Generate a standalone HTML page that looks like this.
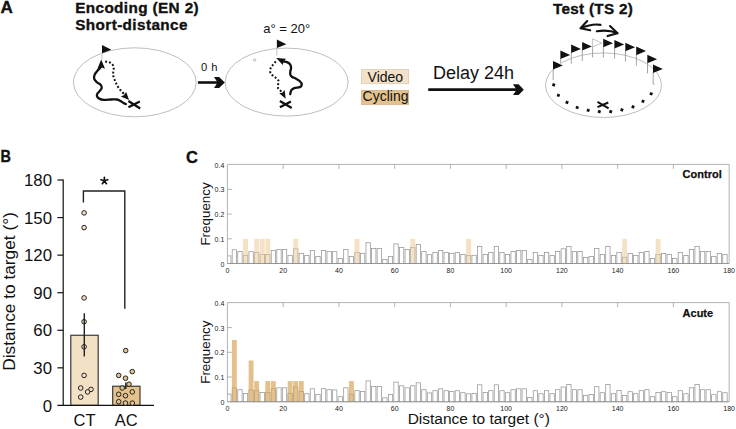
<!DOCTYPE html>
<html><head><meta charset="utf-8"><style>
html,body{margin:0;padding:0;background:#fff;overflow:hidden;}
svg{display:block;font-family:"Liberation Sans",sans-serif;}
</style></head><body>
<svg width="736" height="429" viewBox="0 0 736 429">
<rect width="736" height="429" fill="#fff"/>
<g font-weight="bold" fill="#111" stroke="#111" stroke-width="0.35">
<text transform="translate(0.6 12.9) scale(1.03 1)" font-size="16.6">A</text>
<text transform="translate(0.4 162.2) scale(0.95 1.06)" font-size="15.2">B</text>
<text x="186" y="163" font-size="16.5">C</text>
<text x="75.2" y="12.9" font-size="15.3" letter-spacing="0.38">Encoding (EN 2)</text>
<text x="75.2" y="29.7" font-size="15.3" letter-spacing="0.4">Short-distance</text>
<text x="552.9" y="13.6" font-size="15.3" letter-spacing="0.3">Test (TS 2)</text>
</g>
<g fill="none" stroke="#a8a8a8" stroke-width="0.75">
<ellipse cx="134.8" cy="82.3" rx="61.4" ry="34.5"/>
<ellipse cx="286.6" cy="82.1" rx="61.5" ry="34"/>
<ellipse cx="603.5" cy="85.2" rx="58" ry="32.3"/>
<circle cx="254.6" cy="60.1" r="1.2"/>
</g>
<g stroke="#c4c4c4" stroke-width="1">
<path d="M102 52.5V59.5"/>
<path d="M276.8 47.5V55.5"/>
</g>
<path d="M102 44.9L111.4 49.8L102 53.2Z" fill="#111"/>
<path d="M276.9 39.4L286.4 44.2L276.9 48Z" fill="#111"/>
<path d="M100.6 67.5 C100.07 68.05 98.4 69.58 97.4 70.8 C96.4 72.02 95.13 73.45 94.6 74.8 C94.07 76.15 93.8 77.63 94.2 78.9 C94.6 80.17 95.93 81.42 97 82.4 C98.07 83.38 99.82 83.9 100.6 84.8 C101.38 85.7 101.83 86.78 101.7 87.8 C101.57 88.82 100.53 89.9 99.8 90.9 C99.07 91.9 97.77 92.9 97.3 93.8 C96.83 94.7 96.68 95.5 97 96.3 C97.32 97.1 98.05 98.02 99.2 98.6 C100.35 99.18 101.9 99.65 103.9 99.8 C105.9 99.95 109.03 99.55 111.2 99.5 C113.37 99.45 115.33 99.23 116.9 99.5 C118.47 99.77 119.5 100.5 120.6 101.1 C121.7 101.7 122.62 102.62 123.5 103.1 C124.38 103.58 125.5 103.85 125.9 104" fill="none" stroke="#111" stroke-width="2.3" stroke-linecap="round"/>
<path d="M101.2 59.5L105 68.8L101.1 67.2L97.4 68.8Z" fill="#111"/>
<path d="M105.2 61.6 C105.87 61.72 108.05 61.9 109.2 62.3 C110.35 62.7 111.35 63.13 112.1 64 C112.85 64.87 113.5 66.23 113.7 67.5 C113.9 68.77 113.38 70.28 113.3 71.6 C113.22 72.92 113 74.08 113.2 75.4 C113.4 76.72 114.02 78.2 114.5 79.5 C114.98 80.8 115.55 82.05 116.1 83.2 C116.65 84.35 117.18 85.38 117.8 86.4 C118.42 87.42 119.03 88.33 119.8 89.3 C120.57 90.27 121.65 91.37 122.4 92.2 C123.15 93.03 123.98 93.95 124.3 94.3" fill="none" stroke="#111" stroke-width="2" stroke-dasharray="1.9 1.95"/>
<path d="M129.1 99.9L120.8 96.4L123.8 95.2L126.2 92Z" fill="#111"/>
<path d="M128.4 101.1L140.2 108.4M128.4 107.2L139.8 101.5" stroke="#111" stroke-width="2.3" fill="none"/>
<path d="M282.6 61.1 C283.42 61.32 286.25 61.85 287.5 62.4 C288.75 62.95 289.5 63.52 290.1 64.4 C290.7 65.28 291.07 66.5 291.1 67.7 C291.13 68.9 290.42 70.42 290.3 71.6 C290.18 72.78 290.08 73.9 290.4 74.8 C290.72 75.7 291.35 76.4 292.2 77 C293.05 77.6 294.22 77.68 295.5 78.4 C296.78 79.12 298.85 80.27 299.9 81.3 C300.95 82.33 301.8 83.63 301.8 84.6 C301.8 85.57 301.13 86.52 299.9 87.1 C298.67 87.68 295.82 87.6 294.4 88.1 C292.98 88.6 292.1 89.1 291.4 90.1 C290.7 91.1 290.4 93.43 290.2 94.1" fill="none" stroke="#111" stroke-width="2.3" stroke-linecap="round"/>
<path d="M276.2 58L286 58.7L283.6 61.6L282.8 65Z" fill="#111"/>
<path d="M275.8 61.5 C275.25 62.15 273.38 64.22 272.5 65.4 C271.62 66.58 270.85 67.35 270.5 68.6 C270.15 69.85 269.97 71.7 270.4 72.9 C270.83 74.1 272.12 74.92 273.1 75.8 C274.08 76.68 275.38 77.32 276.3 78.2 C277.22 79.08 278.32 79.93 278.6 81.1 C278.88 82.27 278.07 83.97 278 85.2 C277.93 86.43 277.78 87.57 278.2 88.5 C278.62 89.43 279.9 90.22 280.5 90.8 C281.1 91.38 281.58 91.8 281.8 92" fill="none" stroke="#111" stroke-width="2" stroke-dasharray="1.9 1.95"/>
<path d="M285.7 98.8L279.2 93.3L282.3 92.8L284.6 89.9Z" fill="#111"/>
<path d="M279.9 101.1L291.7 108M279.9 107.2L290.9 101.5" stroke="#111" stroke-width="2.3" fill="none"/>
<path d="M197.9 82.5H218" stroke="#111" stroke-width="2.6"/>
<path d="M214 77.1H219.1L224.8 82.5L219.1 87.9H214L217.6 82.5Z" fill="#111"/>
<path d="M428.2 89.7H517" stroke="#111" stroke-width="2.7"/>
<path d="M513 84.3H518.6L523.8 89.7L518.6 95.1H513L516.6 89.7Z" fill="#111"/>
<g fill="#111">
<text x="201" y="70.6" font-size="11.2" word-spacing="0.8">0 h</text>
<text x="263.3" y="33.3" font-size="13">a° = 20°</text>
<text x="433" y="78.6" font-size="18">Delay 24h</text>
</g>
<rect x="361.5" y="69.5" width="47.2" height="14.3" fill="#f3e2c7" stroke="#d4c0a0" stroke-width="0.6"/>
<rect x="361.5" y="90.3" width="47.2" height="14.3" fill="#e4c28d" stroke="#c8a878" stroke-width="0.6"/>
<text x="367.6" y="81.6" font-size="14" fill="#111">Video</text>
<text x="362.6" y="101.2" font-size="14" fill="#111">Cycling</text>
<g fill="none" stroke="#111" stroke-width="2.1" stroke-linecap="round" stroke-linejoin="round">
<path d="M581 28.1C587 25.6 594 23.6 600.5 24.9"/>
<path d="M587.2 21L580.5 28.2L590.2 30.3"/>
<path d="M596.8 31.3C603 30.2 611 30.6 617.3 33.1"/>
<path d="M610 26L617.5 33.2L607.6 36.1"/>
</g>
<g stroke="#9a9a9a" stroke-width="0.9">
<path d="M553.2 69V80"/>
<path d="M560.6 58.5V62.9"/>
<path d="M571.3 52.5V63.7"/>
<path d="M582.3 50V61"/>
<path d="M592.6 46.6V57.4"/>
<path d="M603.4 46.7V57.4"/>
<path d="M614.6 47.9V58.6"/>
<path d="M625.5 50.7V61.5"/>
<path d="M636.4 54.6V65.7"/>
<path d="M647.5 62.7V73.4"/>
<path d="M653.2 72.5V83.9"/>
</g>
<path d="M553 61L562.8 65.5L553 69.6Z" fill="#111"/>
<path d="M560.4 50.5L570.2 55L560.4 59.1Z" fill="#111"/>
<path d="M571.1 44.5L580.9 49L571.1 53.1Z" fill="#111"/>
<path d="M582.1 42L591.9 46.5L582.1 50.6Z" fill="#111"/>
<path d="M592.6 38.8L601.8 43.1L592.6 46.8Z" fill="#fff" stroke="#aaa" stroke-width="0.7"/>
<path d="M603.2 38.7L613 43.2L603.2 47.3Z" fill="#111"/>
<path d="M614.4 39.9L624.2 44.4L614.4 48.5Z" fill="#111"/>
<path d="M625.3 42.7L635.1 47.2L625.3 51.3Z" fill="#111"/>
<path d="M636.2 46.6L646 51.1L636.2 55.2Z" fill="#111"/>
<path d="M647.3 54.7L657.1 59.2L647.3 63.3Z" fill="#111"/>
<path d="M653 64.5L662.8 69L653 73.1Z" fill="#111"/>
<path d="M653.2 84.1h1.6" stroke="#888" stroke-width="0.7"/>
<g fill="#111">
<rect x="552.3" y="83.5" width="2.8" height="2.8" transform="rotate(20 553.7 84.9)"/>
<rect x="557" y="93.9" width="2.8" height="2.8" transform="rotate(20 558.4 95.3)"/>
<rect x="565.6" y="101" width="2.8" height="2.8" transform="rotate(20 567 102.4)"/>
<rect x="575.8" y="106.1" width="2.8" height="2.8" transform="rotate(20 577.2 107.5)"/>
<rect x="586.8" y="108.9" width="2.8" height="2.8" transform="rotate(20 588.2 110.3)"/>
<rect x="597.9" y="110.2" width="2.8" height="2.8" transform="rotate(20 599.3 111.6)"/>
<rect x="609.3" y="110.2" width="2.8" height="2.8" transform="rotate(20 610.7 111.6)"/>
<rect x="620.5" y="108.5" width="2.8" height="2.8" transform="rotate(20 621.9 109.9)"/>
<rect x="631.6" y="105.5" width="2.8" height="2.8" transform="rotate(20 633 106.9)"/>
<rect x="641.6" y="99.9" width="2.8" height="2.8" transform="rotate(20 643 101.3)"/>
<rect x="649.8" y="92.4" width="2.8" height="2.8" transform="rotate(20 651.2 93.8)"/>
</g>
<path d="M597.5 101.9L608.6 108.3M597.5 107.2L608.3 102.5" stroke="#111" stroke-width="2" fill="none"/>
<g font-size="16.8" fill="#111" text-anchor="end">
<text x="52" y="411.5">0</text>
<text x="52" y="373.93">30</text>
<text x="52" y="336.37">60</text>
<text x="52" y="298.8">90</text>
<text x="52" y="261.24">120</text>
<text x="52" y="223.67">150</text>
<text x="52" y="186.1">180</text>
</g>
<text transform="translate(15.4 291.5) rotate(-90)" font-size="17.3" text-anchor="middle" fill="#111">Distance to target (°)</text>
<rect x="70.8" y="335.28" width="27.4" height="70.12" fill="#f3e1c5" stroke="#3a3a3a" stroke-width="1.2"/>
<rect x="112.7" y="386.24" width="27.3" height="19.16" fill="#e5c28c" stroke="#3a3a3a" stroke-width="1.2"/>
<g stroke="#111" stroke-width="1.2" fill="none">
<path d="M63.2 179.4V405.4M57.4 405.4H154"/>
<path d="M57.4 367.83H63.2"/>
<path d="M57.4 330.27H63.2"/>
<path d="M57.4 292.7H63.2"/>
<path d="M57.4 255.14H63.2"/>
<path d="M57.4 217.57H63.2"/>
<path d="M57.4 180H63.2"/>
</g>
<g stroke="#222" stroke-width="1">
<circle cx="84.1" cy="212.9" r="2.3" fill="#f3e1c5"/>
<circle cx="84.1" cy="227.6" r="2.3" fill="#f3e1c5"/>
<circle cx="84.1" cy="297.9" r="2.3" fill="#f3e1c5"/>
<circle cx="84.1" cy="321.7" r="2.3" fill="#f3e1c5"/>
<circle cx="84.1" cy="346.8" r="2.3" fill="#f3e1c5"/>
<circle cx="84.1" cy="375.4" r="2.3" fill="#f3e1c5"/>
<circle cx="80.7" cy="388" r="2.3" fill="#f3e1c5"/>
<circle cx="91" cy="389.4" r="2.3" fill="#f3e1c5"/>
<circle cx="87.6" cy="391.9" r="2.3" fill="#f3e1c5"/>
<circle cx="80.7" cy="397.1" r="2.3" fill="#f3e1c5"/>
<circle cx="125.7" cy="350.6" r="2.3" fill="#e5c28c"/>
<circle cx="132.3" cy="371.6" r="2.3" fill="#e5c28c"/>
<circle cx="118.7" cy="375.4" r="2.3" fill="#e5c28c"/>
<circle cx="125.5" cy="378.2" r="2.3" fill="#e5c28c"/>
<circle cx="129" cy="384.2" r="2.3" fill="#e5c28c"/>
<circle cx="122.2" cy="388" r="2.3" fill="#e5c28c"/>
<circle cx="132.3" cy="391.9" r="2.3" fill="#e5c28c"/>
<circle cx="118.7" cy="394.3" r="2.3" fill="#e5c28c"/>
<circle cx="125.5" cy="395.7" r="2.3" fill="#e5c28c"/>
<circle cx="118.7" cy="401.7" r="2.3" fill="#e5c28c"/>
<circle cx="125.5" cy="403.1" r="2.3" fill="#e5c28c"/>
<circle cx="132.3" cy="403.1" r="2.3" fill="#e5c28c"/>
</g>
<path d="M84.3 313.3V356.6M125.8 382.5V389" stroke="#222" stroke-width="1.4"/>
<path d="M83.4 202.4V191H124.8V308.7" stroke="#222" stroke-width="1.4" fill="none"/>
<path d="M104.4 180.8L104.4 177.3M104.4 180.8L107.73 179.72M104.4 180.8L106.46 183.63M104.4 180.8L102.34 183.63M104.4 180.8L101.07 179.72" stroke="#111" stroke-width="1.7" stroke-linecap="round" fill="none"/>
<g font-size="16.5" fill="#111" text-anchor="middle">
<text x="84.6" y="426">CT</text>
<text x="126.3" y="426">AC</text>
</g>
<clipPath id="h1"><rect x="227.4" y="164.4" width="501.75" height="99.6"/></clipPath>
<g clip-path="url(#h1)">
<g fill="#fff" stroke="#959595" stroke-width="0.75">
<rect x="226.62" y="255.9" width="4.35" height="8.6"/>
<rect x="232.19" y="249.8" width="4.35" height="14.7"/>
<rect x="237.77" y="251.5" width="4.35" height="13"/>
<rect x="243.34" y="255.3" width="4.35" height="9.2"/>
<rect x="248.92" y="251.7" width="4.35" height="12.8"/>
<rect x="254.49" y="252.5" width="4.35" height="12"/>
<rect x="260.07" y="254.4" width="4.35" height="10.1"/>
<rect x="265.64" y="254.4" width="4.35" height="10.1"/>
<rect x="271.22" y="250.6" width="4.35" height="13.9"/>
<rect x="276.79" y="249.6" width="4.35" height="14.9"/>
<rect x="282.37" y="249.6" width="4.35" height="14.9"/>
<rect x="287.94" y="255.3" width="4.35" height="9.2"/>
<rect x="293.52" y="248.8" width="4.35" height="15.7"/>
<rect x="299.09" y="253.3" width="4.35" height="11.2"/>
<rect x="304.67" y="255.5" width="4.35" height="9"/>
<rect x="310.24" y="250.6" width="4.35" height="13.9"/>
<rect x="315.82" y="256.4" width="4.35" height="8.1"/>
<rect x="321.39" y="250.5" width="4.35" height="14"/>
<rect x="326.97" y="251.5" width="4.35" height="13"/>
<rect x="332.54" y="251.7" width="4.35" height="12.8"/>
<rect x="338.12" y="258.5" width="4.35" height="6"/>
<rect x="343.69" y="249.6" width="4.35" height="14.9"/>
<rect x="349.27" y="256.4" width="4.35" height="8.1"/>
<rect x="354.84" y="252.5" width="4.35" height="12"/>
<rect x="360.42" y="253.3" width="4.35" height="11.2"/>
<rect x="365.99" y="242.7" width="4.35" height="21.8"/>
<rect x="371.57" y="248.4" width="4.35" height="16.1"/>
<rect x="377.14" y="248.4" width="4.35" height="16.1"/>
<rect x="382.72" y="259.6" width="4.35" height="4.9"/>
<rect x="388.29" y="256.4" width="4.35" height="8.1"/>
<rect x="393.87" y="243.9" width="4.35" height="20.6"/>
<rect x="399.44" y="247.6" width="4.35" height="16.9"/>
<rect x="405.02" y="249.6" width="4.35" height="14.9"/>
<rect x="410.59" y="247.6" width="4.35" height="16.9"/>
<rect x="416.17" y="244.6" width="4.35" height="19.9"/>
<rect x="421.74" y="251.5" width="4.35" height="13"/>
<rect x="427.32" y="254.7" width="4.35" height="9.8"/>
<rect x="432.89" y="252.5" width="4.35" height="12"/>
<rect x="438.47" y="250.6" width="4.35" height="13.9"/>
<rect x="444.04" y="252.5" width="4.35" height="12"/>
<rect x="449.62" y="253.3" width="4.35" height="11.2"/>
<rect x="455.19" y="252.5" width="4.35" height="12"/>
<rect x="460.77" y="254.5" width="4.35" height="10"/>
<rect x="466.34" y="255.6" width="4.35" height="8.9"/>
<rect x="471.92" y="255.3" width="4.35" height="9.2"/>
<rect x="477.49" y="246.6" width="4.35" height="17.9"/>
<rect x="483.07" y="254.4" width="4.35" height="10.1"/>
<rect x="488.64" y="252.5" width="4.35" height="12"/>
<rect x="494.22" y="246.6" width="4.35" height="17.9"/>
<rect x="499.79" y="252.5" width="4.35" height="12"/>
<rect x="505.37" y="254.5" width="4.35" height="10"/>
<rect x="510.94" y="251.5" width="4.35" height="13"/>
<rect x="516.52" y="250.6" width="4.35" height="13.9"/>
<rect x="522.09" y="250.6" width="4.35" height="13.9"/>
<rect x="527.67" y="259.4" width="4.35" height="5.1"/>
<rect x="533.24" y="252.5" width="4.35" height="12"/>
<rect x="538.82" y="255.5" width="4.35" height="9"/>
<rect x="544.39" y="252.5" width="4.35" height="12"/>
<rect x="549.97" y="255.5" width="4.35" height="9"/>
<rect x="555.54" y="251.5" width="4.35" height="13"/>
<rect x="561.12" y="248.8" width="4.35" height="15.7"/>
<rect x="566.69" y="246.4" width="4.35" height="18.1"/>
<rect x="572.27" y="251.5" width="4.35" height="13"/>
<rect x="577.84" y="251.5" width="4.35" height="13"/>
<rect x="583.42" y="257.4" width="4.35" height="7.1"/>
<rect x="588.99" y="256.4" width="4.35" height="8.1"/>
<rect x="594.57" y="248.5" width="4.35" height="16"/>
<rect x="600.14" y="254.5" width="4.35" height="10"/>
<rect x="605.72" y="246.4" width="4.35" height="18.1"/>
<rect x="611.29" y="255.5" width="4.35" height="9"/>
<rect x="616.87" y="252.4" width="4.35" height="12.1"/>
<rect x="622.44" y="257.3" width="4.35" height="7.2"/>
<rect x="628.02" y="253.5" width="4.35" height="11"/>
<rect x="633.59" y="255.5" width="4.35" height="9"/>
<rect x="639.17" y="252.5" width="4.35" height="12"/>
<rect x="644.74" y="251.5" width="4.35" height="13"/>
<rect x="650.32" y="258.5" width="4.35" height="6"/>
<rect x="655.89" y="254.4" width="4.35" height="10.1"/>
<rect x="661.47" y="253.5" width="4.35" height="11"/>
<rect x="667.04" y="254.4" width="4.35" height="10.1"/>
<rect x="672.62" y="258.5" width="4.35" height="6"/>
<rect x="678.19" y="252.5" width="4.35" height="12"/>
<rect x="683.77" y="255.5" width="4.35" height="9"/>
<rect x="689.34" y="249.6" width="4.35" height="14.9"/>
<rect x="694.92" y="246.4" width="4.35" height="18.1"/>
<rect x="700.49" y="251.5" width="4.35" height="13"/>
<rect x="706.07" y="251.5" width="4.35" height="13"/>
<rect x="711.64" y="256.5" width="4.35" height="8"/>
<rect x="717.22" y="253.5" width="4.35" height="11"/>
<rect x="722.79" y="254.5" width="4.35" height="10"/>
</g>
<g fill="#ecc995" fill-opacity="0.55">
<rect x="243.07" y="238.8" width="4.9" height="24.7"/>
<rect x="254.22" y="238.8" width="4.9" height="24.7"/>
<rect x="259.79" y="238.8" width="4.9" height="24.7"/>
<rect x="265.37" y="238.8" width="4.9" height="24.7"/>
<rect x="293.24" y="238.8" width="4.9" height="24.7"/>
<rect x="354.57" y="238.8" width="4.9" height="24.7"/>
<rect x="410.32" y="238.8" width="4.9" height="24.7"/>
<rect x="466.07" y="238.8" width="4.9" height="24.7"/>
<rect x="622.17" y="238.8" width="4.9" height="24.7"/>
<rect x="655.62" y="238.8" width="4.9" height="24.7"/>
</g>
</g>
<g stroke="#a0a0a0" stroke-width="0.8" fill="none">
<path d="M227.4 263.5V164.4H729.15V263.5"/>
<path d="M227.4 238.8h4.5"/>
<path d="M227.4 214.1h4.5"/>
<path d="M227.4 189.4h4.5"/>
<path d="M283.15 164.4v4.5"/>
<path d="M338.9 164.4v4.5"/>
<path d="M394.65 164.4v4.5"/>
<path d="M450.4 164.4v4.5"/>
<path d="M506.15 164.4v4.5"/>
<path d="M561.9 164.4v4.5"/>
<path d="M617.65 164.4v4.5"/>
<path d="M673.4 164.4v4.5"/>
</g>
<path d="M227.4 263.5H729.15" stroke="#8a8a8a" stroke-width="0.9"/>
<g font-size="7" fill="#222" text-anchor="end">
<text x="224.3" y="266.5">0</text>
<text x="224.3" y="241.8">0.1</text>
<text x="224.3" y="217.1">0.2</text>
<text x="224.3" y="192.4">0.3</text>
<text x="224.3" y="167.7">0.4</text>
</g>
<g font-size="7" fill="#222" text-anchor="middle">
<text x="227.4" y="273">0</text>
<text x="283.15" y="273">20</text>
<text x="338.9" y="273">40</text>
<text x="394.65" y="273">60</text>
<text x="450.4" y="273">80</text>
<text x="506.15" y="273">100</text>
<text x="561.9" y="273">120</text>
<text x="617.65" y="273">140</text>
<text x="673.4" y="273">160</text>
<text x="729.15" y="273">180</text>
</g>
<text transform="translate(210 213.95) rotate(-90)" font-size="13.4" text-anchor="middle" fill="#111">Frequency</text>
<text x="682.6" y="177.7" font-size="11" font-weight="bold" fill="#111" stroke="#111" stroke-width="0.25">Control</text>
<clipPath id="h2"><rect x="227.4" y="302.6" width="501.75" height="99.6"/></clipPath>
<g clip-path="url(#h2)">
<g fill="#fff" stroke="#959595" stroke-width="0.75">
<rect x="226.62" y="394.1" width="4.35" height="8.6"/>
<rect x="232.19" y="388" width="4.35" height="14.7"/>
<rect x="237.77" y="389.7" width="4.35" height="13"/>
<rect x="243.34" y="393.5" width="4.35" height="9.2"/>
<rect x="248.92" y="389.9" width="4.35" height="12.8"/>
<rect x="254.49" y="390.7" width="4.35" height="12"/>
<rect x="260.07" y="392.6" width="4.35" height="10.1"/>
<rect x="265.64" y="392.6" width="4.35" height="10.1"/>
<rect x="271.22" y="388.8" width="4.35" height="13.9"/>
<rect x="276.79" y="387.8" width="4.35" height="14.9"/>
<rect x="282.37" y="387.8" width="4.35" height="14.9"/>
<rect x="287.94" y="393.5" width="4.35" height="9.2"/>
<rect x="293.52" y="387" width="4.35" height="15.7"/>
<rect x="299.09" y="391.5" width="4.35" height="11.2"/>
<rect x="304.67" y="393.7" width="4.35" height="9"/>
<rect x="310.24" y="388.8" width="4.35" height="13.9"/>
<rect x="315.82" y="394.6" width="4.35" height="8.1"/>
<rect x="321.39" y="388.7" width="4.35" height="14"/>
<rect x="326.97" y="389.7" width="4.35" height="13"/>
<rect x="332.54" y="389.9" width="4.35" height="12.8"/>
<rect x="338.12" y="396.7" width="4.35" height="6"/>
<rect x="343.69" y="387.8" width="4.35" height="14.9"/>
<rect x="349.27" y="394.6" width="4.35" height="8.1"/>
<rect x="354.84" y="390.7" width="4.35" height="12"/>
<rect x="360.42" y="391.5" width="4.35" height="11.2"/>
<rect x="365.99" y="380.9" width="4.35" height="21.8"/>
<rect x="371.57" y="386.6" width="4.35" height="16.1"/>
<rect x="377.14" y="386.6" width="4.35" height="16.1"/>
<rect x="382.72" y="397.8" width="4.35" height="4.9"/>
<rect x="388.29" y="394.6" width="4.35" height="8.1"/>
<rect x="393.87" y="382.1" width="4.35" height="20.6"/>
<rect x="399.44" y="385.8" width="4.35" height="16.9"/>
<rect x="405.02" y="387.8" width="4.35" height="14.9"/>
<rect x="410.59" y="385.8" width="4.35" height="16.9"/>
<rect x="416.17" y="382.8" width="4.35" height="19.9"/>
<rect x="421.74" y="389.7" width="4.35" height="13"/>
<rect x="427.32" y="392.9" width="4.35" height="9.8"/>
<rect x="432.89" y="390.7" width="4.35" height="12"/>
<rect x="438.47" y="388.8" width="4.35" height="13.9"/>
<rect x="444.04" y="390.7" width="4.35" height="12"/>
<rect x="449.62" y="391.5" width="4.35" height="11.2"/>
<rect x="455.19" y="390.7" width="4.35" height="12"/>
<rect x="460.77" y="392.7" width="4.35" height="10"/>
<rect x="466.34" y="393.8" width="4.35" height="8.9"/>
<rect x="471.92" y="393.5" width="4.35" height="9.2"/>
<rect x="477.49" y="384.8" width="4.35" height="17.9"/>
<rect x="483.07" y="392.6" width="4.35" height="10.1"/>
<rect x="488.64" y="390.7" width="4.35" height="12"/>
<rect x="494.22" y="384.8" width="4.35" height="17.9"/>
<rect x="499.79" y="390.7" width="4.35" height="12"/>
<rect x="505.37" y="392.7" width="4.35" height="10"/>
<rect x="510.94" y="389.7" width="4.35" height="13"/>
<rect x="516.52" y="388.8" width="4.35" height="13.9"/>
<rect x="522.09" y="388.8" width="4.35" height="13.9"/>
<rect x="527.67" y="397.6" width="4.35" height="5.1"/>
<rect x="533.24" y="390.7" width="4.35" height="12"/>
<rect x="538.82" y="393.7" width="4.35" height="9"/>
<rect x="544.39" y="390.7" width="4.35" height="12"/>
<rect x="549.97" y="393.7" width="4.35" height="9"/>
<rect x="555.54" y="389.7" width="4.35" height="13"/>
<rect x="561.12" y="387" width="4.35" height="15.7"/>
<rect x="566.69" y="384.6" width="4.35" height="18.1"/>
<rect x="572.27" y="389.7" width="4.35" height="13"/>
<rect x="577.84" y="389.7" width="4.35" height="13"/>
<rect x="583.42" y="395.6" width="4.35" height="7.1"/>
<rect x="588.99" y="394.6" width="4.35" height="8.1"/>
<rect x="594.57" y="386.7" width="4.35" height="16"/>
<rect x="600.14" y="392.7" width="4.35" height="10"/>
<rect x="605.72" y="384.6" width="4.35" height="18.1"/>
<rect x="611.29" y="393.7" width="4.35" height="9"/>
<rect x="616.87" y="390.6" width="4.35" height="12.1"/>
<rect x="622.44" y="395.5" width="4.35" height="7.2"/>
<rect x="628.02" y="391.7" width="4.35" height="11"/>
<rect x="633.59" y="393.7" width="4.35" height="9"/>
<rect x="639.17" y="390.7" width="4.35" height="12"/>
<rect x="644.74" y="389.7" width="4.35" height="13"/>
<rect x="650.32" y="396.7" width="4.35" height="6"/>
<rect x="655.89" y="392.6" width="4.35" height="10.1"/>
<rect x="661.47" y="391.7" width="4.35" height="11"/>
<rect x="667.04" y="392.6" width="4.35" height="10.1"/>
<rect x="672.62" y="396.7" width="4.35" height="6"/>
<rect x="678.19" y="390.7" width="4.35" height="12"/>
<rect x="683.77" y="393.7" width="4.35" height="9"/>
<rect x="689.34" y="387.8" width="4.35" height="14.9"/>
<rect x="694.92" y="384.6" width="4.35" height="18.1"/>
<rect x="700.49" y="389.7" width="4.35" height="13"/>
<rect x="706.07" y="389.7" width="4.35" height="13"/>
<rect x="711.64" y="394.7" width="4.35" height="8"/>
<rect x="717.22" y="391.7" width="4.35" height="11"/>
<rect x="722.79" y="392.7" width="4.35" height="10"/>
</g>
<g fill="#d9a55a" fill-opacity="0.7">
<rect x="231.92" y="339.95" width="4.9" height="61.75"/>
<rect x="248.64" y="360.53" width="4.9" height="41.17"/>
<rect x="254.22" y="381.12" width="4.9" height="20.58"/>
<rect x="265.37" y="381.12" width="4.9" height="20.58"/>
<rect x="270.94" y="381.12" width="4.9" height="20.58"/>
<rect x="287.67" y="381.12" width="4.9" height="20.58"/>
<rect x="293.24" y="381.12" width="4.9" height="20.58"/>
<rect x="298.82" y="381.12" width="4.9" height="20.58"/>
<rect x="348.99" y="381.12" width="4.9" height="20.58"/>
</g>
</g>
<g stroke="#a0a0a0" stroke-width="0.8" fill="none">
<path d="M227.4 401.7V302.6H729.15V401.7"/>
<path d="M227.4 377h4.5"/>
<path d="M227.4 352.3h4.5"/>
<path d="M227.4 327.6h4.5"/>
<path d="M283.15 302.6v4.5"/>
<path d="M338.9 302.6v4.5"/>
<path d="M394.65 302.6v4.5"/>
<path d="M450.4 302.6v4.5"/>
<path d="M506.15 302.6v4.5"/>
<path d="M561.9 302.6v4.5"/>
<path d="M617.65 302.6v4.5"/>
<path d="M673.4 302.6v4.5"/>
</g>
<path d="M227.4 401.7H729.15" stroke="#8a8a8a" stroke-width="0.9"/>
<g font-size="7" fill="#222" text-anchor="end">
<text x="224.3" y="404.7">0</text>
<text x="224.3" y="380">0.1</text>
<text x="224.3" y="355.3">0.2</text>
<text x="224.3" y="330.6">0.3</text>
<text x="224.3" y="305.9">0.4</text>
</g>
<g font-size="7" fill="#222" text-anchor="middle">
<text x="227.4" y="411.2">0</text>
<text x="283.15" y="411.2">20</text>
<text x="338.9" y="411.2">40</text>
<text x="394.65" y="411.2">60</text>
<text x="450.4" y="411.2">80</text>
<text x="506.15" y="411.2">100</text>
<text x="561.9" y="411.2">120</text>
<text x="617.65" y="411.2">140</text>
<text x="673.4" y="411.2">160</text>
<text x="729.15" y="411.2">180</text>
</g>
<text transform="translate(210 352.15) rotate(-90)" font-size="13.4" text-anchor="middle" fill="#111">Frequency</text>
<text x="682.6" y="317.1" font-size="11" font-weight="bold" fill="#111" stroke="#111" stroke-width="0.25">Acute</text>
<text x="478.8" y="424.3" font-size="15.5" text-anchor="middle" fill="#111">Distance to target (°)</text>
</svg></body></html>
